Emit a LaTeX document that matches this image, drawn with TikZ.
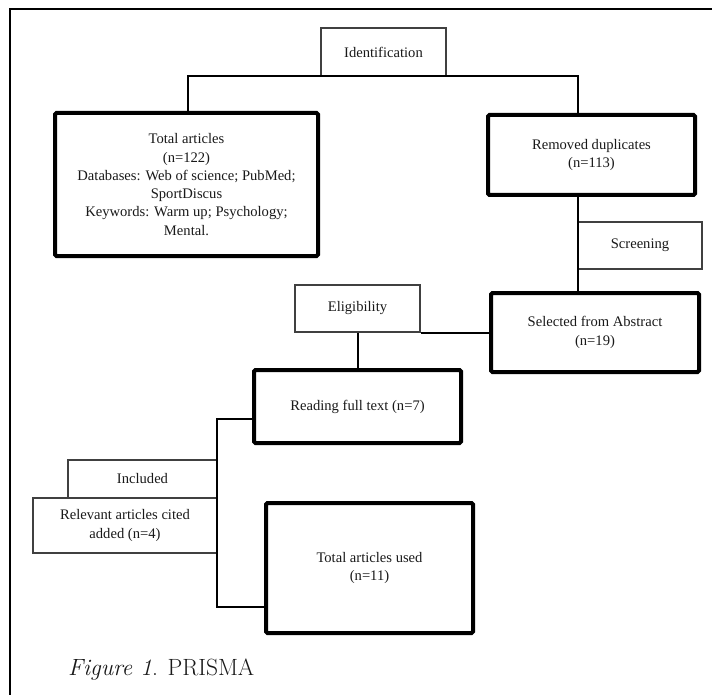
\documentclass[tikz,border=0pt]{standalone}
\usepackage{fontspec}
\newfontfamily\tnr{Liberation Serif}
\usetikzlibrary{calc}
\tikzset{
  boxtext/.style={font=\tnr\fontsize{14.6}{18.3}\selectfont, text=black!90, align=center, inner sep=0pt},
  bigbox/.style={boxtext, draw=black, line width=4pt, rounded corners=1.5pt},
  smallbox/.style={boxtext, draw=black!75, line width=1.3pt},
  conn/.style={draw=black, line width=2pt},
  framel/.style={draw=black, line width=2pt}
}
\begin{document}
\begin{tikzpicture}[x=1pt,y=-1pt]
\useasboundingbox (0,0) rectangle (712,695);
\draw[framel] (10,695) -- (10,9) -- (712,9);

% boxes (center, size)
\node[smallbox, minimum width=125pt, minimum height=48pt] (ident) at (383.5,52) {Identification};
\node[bigbox, minimum width=263pt, minimum height=143pt] (tot) at (186.5,184.5)
  {Total articles\\(n=122)\\Databases: Web of science; PubMed;\\SportDiscus\\Keywords: Warm up; Psychology;\\Mental.};
\node[bigbox, minimum width=207pt, minimum height=80pt] (rem) at (591.5,155) {Removed duplicates\\(n=113)};
\node[smallbox, minimum width=124pt, minimum height=47pt] (scr) at (640,245.5) {Screening};
\node[bigbox, minimum width=208pt, minimum height=79pt] (sel) at (595,332.5) {Selected from Abstract\\(n=19)};
\node[smallbox, minimum width=125pt, minimum height=47pt] (elig) at (357.5,308.5) {Eligibility};
\node[bigbox, minimum width=207pt, minimum height=73pt] (read) at (357.5,406.5) {Reading full text (n=7)};
\node[smallbox, minimum width=149pt, minimum height=38pt] (incl) at (142.5,479) {Included};
\node[smallbox, minimum width=184pt, minimum height=55pt] (rel) at (125,525.5) {Relevant articles cited\\added (n=4)};
\node[bigbox, minimum width=207pt, minimum height=130pt] (used) at (369.5,568) {Total articles used\\(n=11)};

\node[anchor=base west, font=\fontsize{23.5}{28}\selectfont, text=black!90, inner sep=0pt] (cap) at (68,675) {\textit{Figure 1}. PRISMA};

% connectors
\coordinate (c1) at (188,76);
\coordinate (c2) at (578,76);
\draw[conn] (c1 |- tot.north) -- (c1) -- (c2) -- (c2 |- rem.north);
\draw[conn] (c2 |- rem.south) -- (c2 |- sel.north);
\draw[conn] (elig.south east) -- (elig.south east -| sel.west);
\draw[conn] (elig.south) -- (read.north);
\coordinate (k1) at (217,419);
\coordinate (k2) at (217,607);
\draw[conn] (read.west |- k1) -- (k1) -- (k2) -- (k2 -| used.west);
\end{tikzpicture}
\end{document}
